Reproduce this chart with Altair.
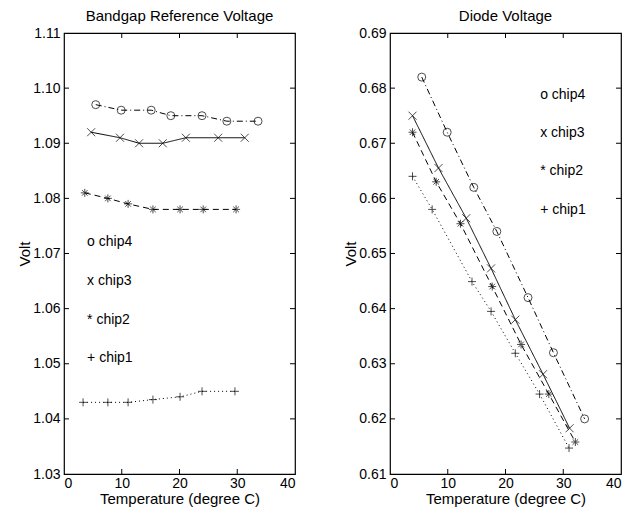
import altair as alt
import pandas as pd

# ---- data ----
chips = ["chip4", "chip3", "chip2", "chip1"]

# Bandgap reference voltage
t4L = [5.5, 9.9, 15.1, 18.5, 23.9, 28.2, 33.6]
v4L = [1.097, 1.096, 1.096, 1.095, 1.095, 1.094, 1.094]
t3L = [4.7, 9.7, 13.0, 17.1, 21.1, 26.7, 31.3]
v3L = [1.092, 1.091, 1.090, 1.090, 1.091, 1.091, 1.091]
t2L = [3.6, 7.6, 11.1, 15.4, 20.1, 24.1, 29.8]
v2L = [1.081, 1.080, 1.079, 1.078, 1.078, 1.078, 1.078]
t1L = [3.3, 7.6, 11.1, 15.4, 20.1, 23.9, 29.6]
v1L = [1.043, 1.043, 1.043, 1.0435, 1.044, 1.045, 1.045]

# Diode voltage
t4R = [5.5, 9.9, 14.5, 18.5, 23.9, 28.3, 33.7]
v4R = [0.682, 0.672, 0.662, 0.654, 0.642, 0.632, 0.620]
t3R = [3.9, 8.4, 13.2, 17.5, 21.7, 26.5, 31.1]
v3R = [0.675, 0.6655, 0.6564, 0.6473, 0.638, 0.6281, 0.6183]
t2R = [3.9, 8.0, 12.2, 17.7, 22.7, 27.5, 32.1]
v2R = [0.672, 0.663, 0.6554, 0.644, 0.6335, 0.6245, 0.6158]
t1R = [3.9, 7.3, 14.2, 17.5, 21.7, 25.9, 31.0]
v1R = [0.664, 0.658, 0.6449, 0.6395, 0.6319, 0.6245, 0.6147]

# annotation labels
labels = ["o chip4", "x chip3", "* chip2", "+ chip1"]
labL_x = [4, 4, 4, 4]
labL_y = [1.072, 1.065, 1.058, 1.051]
labR_x = [26, 26, 26, 26]
labR_y = [0.6788, 0.6719, 0.665, 0.6579]

xticks = [0, 10, 20, 30, 40]
xticks_inner = [10, 20, 30]
yticksL = [1.03, 1.04, 1.05, 1.06, 1.07, 1.08, 1.09, 1.10, 1.11]
yticksR = [0.61, 0.62, 0.63, 0.64, 0.65, 0.66, 0.67, 0.68, 0.69]

# ---- styling ----
W, H = 231, 441
FONT = "Liberation Sans"
PLUS = "M-1,0L1,0M0,-1L0,1"
XMARK = "M-1,-1L1,1M-1,1L1,-1"
STAR = "M-1,0L1,0M0,-1L0,1M-0.7,-0.7L0.7,0.7M-0.7,0.7L0.7,-0.7"
shape_scale = alt.Scale(domain=chips, range=["circle", XMARK, STAR, PLUS])
dash_scale = alt.Scale(domain=chips, range=[[6, 3, 1, 3], [1, 0], [6, 4], [1, 3]])


def frame(ts, vs):
    rows = []
    for c, t, v in zip(chips, ts, vs):
        for a, b in zip(t, v):
            rows.append({"chip": c, "t": a, "v": b})
    return pd.DataFrame(rows)


def panel(df, title, ydom, yticks, lx, ly):
    xs = alt.Scale(domain=[0, 40], nice=False, zero=False)
    ys = alt.Scale(domain=ydom, nice=False, zero=False)
    xenc = alt.X("t:Q", scale=xs,
                 axis=alt.Axis(values=xticks, title="Temperature (degree C)", grid=False,
                               ticks=False, domain=False, labelPadding=2, titlePadding=1))
    yenc = alt.Y("v:Q", scale=ys,
                 axis=alt.Axis(values=yticks, format=".2f", title="Volt", grid=False,
                               ticks=False, domain=False, labelPadding=4, titlePadding=0))
    base = alt.Chart(df)
    lines = base.mark_line(color="black", strokeWidth=1).encode(
        x=xenc, y=yenc,
        strokeDash=alt.StrokeDash("chip:N", scale=dash_scale, legend=None),
        detail="chip:N")
    pts = base.mark_point(color="black", strokeWidth=1, size=64, filled=False).encode(
        x="t:Q", y="v:Q",
        shape=alt.Shape("chip:N", scale=shape_scale, legend=None))
    txt = alt.Chart(pd.DataFrame({"x": lx, "y": ly, "label": labels})).mark_text(
        align="left", baseline="middle", font=FONT, fontSize=14, color="black").encode(
        x="x:Q", y="y:Q", text="label:N")
    xt = pd.DataFrame({"t": xticks_inner})
    yt = pd.DataFrame({"v": yticks[1:-1]})
    tb = alt.Chart(xt).mark_rule(color="black").encode(x="t:Q", y=alt.value(H), y2=alt.value(H - 5))
    tt = alt.Chart(xt).mark_rule(color="black").encode(x="t:Q", y=alt.value(0), y2=alt.value(5))
    tl = alt.Chart(yt).mark_rule(color="black").encode(y="v:Q", x=alt.value(0), x2=alt.value(5))
    tr = alt.Chart(yt).mark_rule(color="black").encode(y="v:Q", x=alt.value(W), x2=alt.value(W - 5))
    return alt.layer(lines, pts, txt, tb, tt, tl, tr).properties(
        width=W, height=H,
        title=alt.TitleParams(title, fontSize=15, font=FONT, fontWeight="normal", offset=2))


left = panel(frame([t4L, t3L, t2L, t1L], [v4L, v3L, v2L, v1L]),
             "Bandgap Reference Voltage", [1.03, 1.11], yticksL, labL_x, labL_y)
right = panel(frame([t4R, t3R, t2R, t1R], [v4R, v3R, v2R, v1R]),
              "Diode Voltage", [0.61, 0.69], yticksR, labR_x, labR_y)

chart = alt.hconcat(left, right, spacing=46).configure_view(
    stroke="black", strokeWidth=1.2).configure_axis(
    labelFont=FONT, titleFont=FONT, labelFontSize=14, titleFontSize=15,
    labelColor="black", titleColor="black", titleFontWeight="normal").properties(
    padding={"left": 9, "top": 0, "right": 0, "bottom": 0},
    background="white")

chart.save("out.html", embed_options={"renderer": "svg", "actions": False})
